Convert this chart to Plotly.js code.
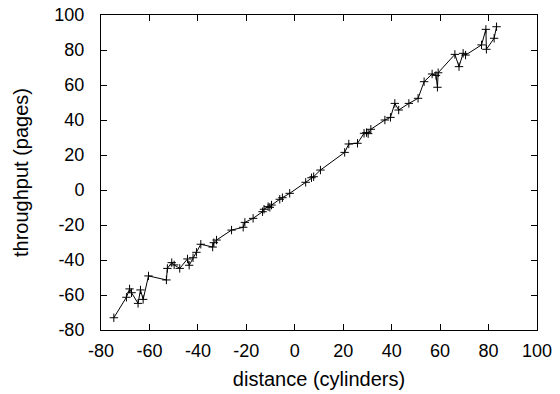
<!DOCTYPE html>
<html>
<head>
<meta charset="utf-8">
<script src="https://cdn.plot.ly/plotly-3.0.1.min.js"></script>
<style>html,body{margin:0;padding:0;background:#fff;}#chart{width:560px;height:394px;}</style>
</head>
<body>
<div id="chart"></div>
<script>
const distance = [-74.7, -69.5, -68.2, -67.4, -64.7, -63.7, -62.6, -60.4, -53.0, -52.6, -50.8, -49.8, -47.5, -44.3, -43.6, -42.0, -40.6, -38.8, -33.9, -33.4, -32.3, -26.1, -21.3, -20.6, -17.2, -13.3, -12.7, -11.0, -10.3, -9.6, -6.2, -5.1, -2.1, 4.5, 6.9, 7.8, 10.6, 20.6, 22.3, 25.9, 28.6, 29.6, 30.3, 31.4, 37.2, 39.5, 41.3, 42.9, 47.1, 50.9, 53.4, 56.7, 58.3, 58.9, 59.2, 66.1, 67.8, 69.5, 70.5, 77.1, 78.9, 79.1, 82.3, 83.3];
const throughput = [-73.0, -61.3, -56.5, -58.7, -64.8, -57.1, -62.5, -49.1, -51.4, -44.8, -41.5, -42.8, -44.8, -39.4, -43.0, -38.7, -35.6, -31.0, -32.6, -30.1, -28.6, -22.9, -21.3, -18.5, -16.2, -12.4, -11.0, -9.5, -9.9, -8.6, -5.3, -4.4, -1.9, 4.4, 7.0, 7.6, 11.4, 21.5, 26.3, 26.7, 32.4, 32.8, 32.2, 34.7, 40.0, 41.5, 49.5, 45.7, 49.5, 52.4, 61.9, 66.3, 65.5, 58.7, 67.0, 77.5, 70.5, 78.1, 77.1, 82.9, 91.8, 80.4, 86.7, 93.3];
const xTicks = [-80, -60, -40, -20, 0, 20, 40, 60, 80, 100];
const yTicks = [-80, -60, -40, -20, 0, 20, 40, 60, 80, 100];

const tickFont = {family: '"Liberation Sans", Arial, sans-serif', size: 18, color: '#000'};
const titleFont = {family: '"Liberation Sans", Arial, sans-serif', size: 20, color: '#000'};
const axisCommon = {
  showgrid: false, zeroline: false, showline: true, linecolor: '#000', linewidth: 1,
  mirror: 'ticks', ticks: 'inside', ticklen: 6, tickwidth: 1, tickcolor: '#000',
  tickfont: tickFont, tickmode: 'array'
};
Plotly.newPlot('chart', [{
  x: distance, y: throughput, type: 'scatter', mode: 'lines+markers',
  line: {color: '#000', width: 1},
  marker: {symbol: 'cross-thin', size: 6, color: '#000', line: {color: '#000', width: 1}},
  showlegend: false
}], {
  width: 560, height: 394,
  margin: {l: 101, r: 23, t: 15, b: 64},
  paper_bgcolor: '#fff', plot_bgcolor: '#fff',
  font: tickFont,
  xaxis: Object.assign({}, axisCommon, {range: [-80, 100], tickvals: xTicks, ticktext: xTicks.map(String), ticklabelstandoff: 4,
    title: {text: 'distance (cylinders)', font: titleFont, standoff: 12}}),
  yaxis: Object.assign({}, axisCommon, {range: [-80, 100], tickvals: yTicks, ticktext: yTicks.map(String), ticklabelstandoff: 12,
    title: {text: 'throughput (pages)', font: titleFont, standoff: 20}})
}, {displayModeBar: false, staticPlot: true});
</script>
</body>
</html>
